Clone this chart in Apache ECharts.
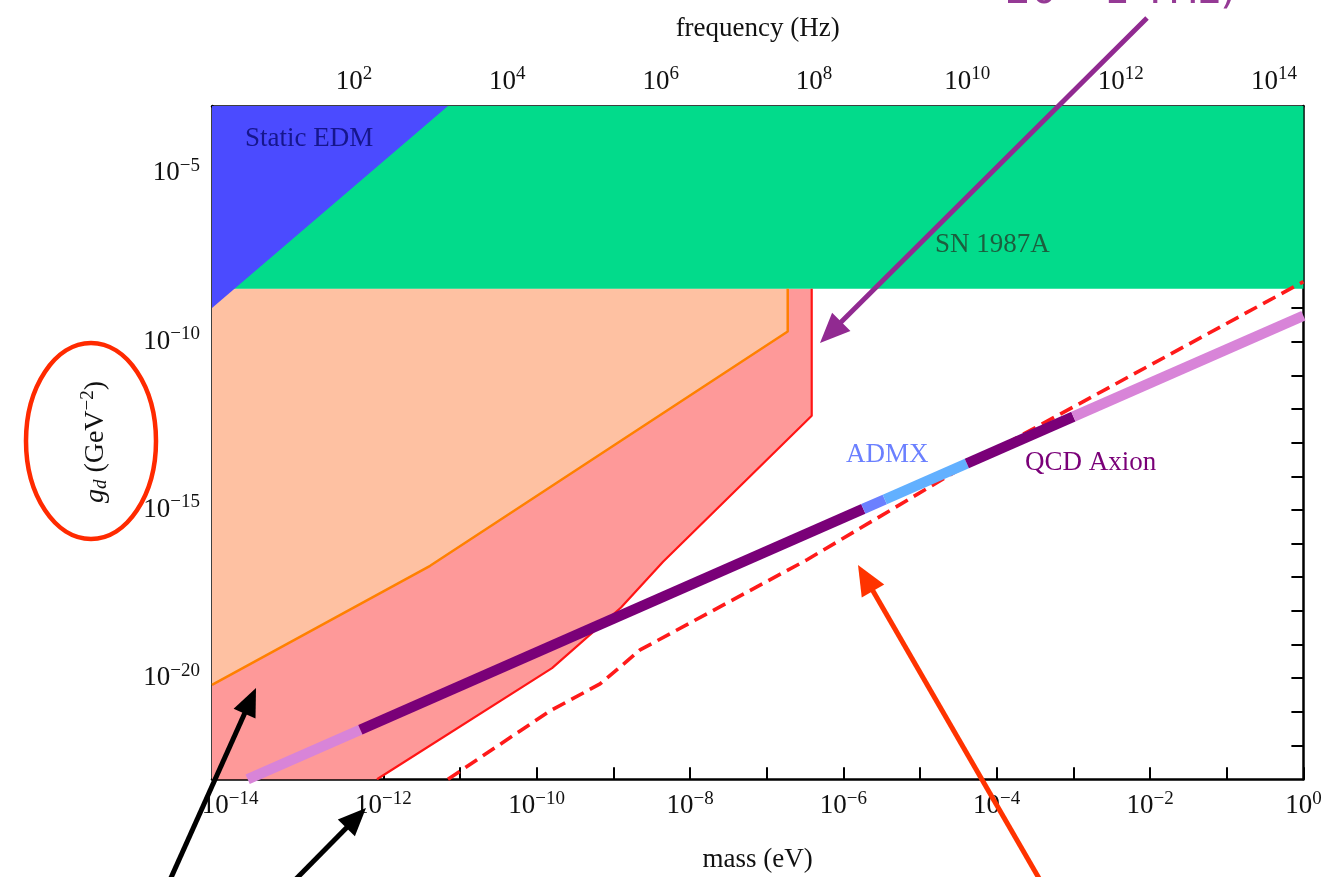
<!DOCTYPE html>
<html><head><meta charset="utf-8">
<script src="https://cdn.jsdelivr.net/npm/echarts@6/dist/echarts.min.js"></script>
<style>html,body{margin:0;padding:0;background:#fff}#c{width:1323px;height:877px}</style>
</head><body><div id="c"></div>
<script>
// ---- axes (all values are log10 exponents) ----
const LOG_H = -14.3835;            // log10(Planck constant in eV s): f = m / h
const X_MIN = -14.235, X_MAX = 0;  // log10(mass / eV)
const Y_MIN = -23, Y_MAX = -3;     // log10(g_d / GeV^-2)
const MASS_TICKS  = [-14,-13,-12,-11,-10,-9,-8,-7,-6,-5,-4,-3,-2,-1,0];
const MASS_LABELS = [-14,-12,-10,-8,-6,-4,-2,0];
const FREQ_TICKS  = [1,2,3,4,5,6,7,8,9,10,11,12,13,14];
const FREQ_LABELS = [2,4,6,8,10,12,14];
const G_TICKS  = [-22,-21,-20,-19,-18,-17,-16,-15,-14,-13,-12,-11,-10,-9,-8,-7,-6,-5,-4];
const G_LABELS = [-20,-15,-10,-5];

// ---- regions (log10 mass, log10 g) ----
const edmX = [-14.235, -11.157, -14.235];
const edmY = [-3, -3, -9.0];
const snX = [-14.235, 0, 0, -14.235];
const snY = [-8.43, -8.43, -3, -3];
const orangeX = [-14.235, -11.39, -6.726, -6.726];
const orangeY = [-20.20, -16.66, -9.70, -8.43];
const redX = [-12.083, -9.80, -8.90, -8.352, -6.413, -6.413];
const redY = [-23.0, -19.70, -17.90, -16.54, -12.20, -8.43];
const dashX = [-11.157, -9.826, -9.174, -8.652, -6.474, -4.387, 0];
const dashY = [-23.0, -20.97, -20.17, -19.16, -16.48, -13.66, -8.22];
// QCD axion band segments
const qcdX = [-13.77, -12.30, -5.74, -5.46, -4.39, -3.00, 0];
const qcdY = [-23.00, -21.53, -14.97, -14.69, -13.62, -12.23, -9.23];
const qcdColors = ['#d884d8', '#7a0078', '#6b80ff', '#62b0ff', '#7a0078', '#d884d8'];

const SERIF = '"Liberation Serif","Times New Roman",serif';
function expLabel(v){ return '{b|10}{s|' + (v < 0 ? '\u2212' : '') + Math.abs(v) + '}'; }
const richLab = {
  b: {fontSize: 27, fontFamily: SERIF, color: '#111'},
  s: {fontSize: 19, fontFamily: SERIF, color: '#111', padding: [0,0,15,0]}
};
function pairs(xs, ys){ return xs.map((x,i)=>[x, ys[i]]); }
function region(xs, ys, fill, z){
  return {type:'custom', silent:true, z:z, data:[0], renderItem:(p, api)=>({
    type:'polygon', shape:{points: xs.map((x,i)=>api.coord([x, ys[i]]))}, style:{fill: fill}
  })};
}
function line(xs, ys, color, width, z, type){
  return {type:'line', silent:true, z:z, data: pairs(xs, ys), symbol:'none', showSymbol:false,
    lineStyle:{color: color, width: width, type: type || 'solid', cap:'butt'}, animation:false};
}

const series = [];
series.push(region([X_MIN].concat(redX).concat([X_MIN]), [Y_MIN].concat(redY).concat([-8.43]), '#fe9999', 1));
series.push(region(orangeX.concat([X_MIN]), orangeY.concat([-8.43]), '#fec1a2', 2));
series.push(region(snX, snY, '#02db8b', 3));
series.push(region(edmX, edmY, '#4b4bff', 4));
series.push(line(redX, redY, '#ff1515', 2.2, 5));
series.push(line(orangeX, orangeY, '#ff8000', 2.5, 5));
series.push(line(dashX, dashY, '#ff1a1a', 3.6, 6, [14, 7]));
for (let i = 0; i < qcdColors.length; i++) {
  series.push(line([qcdX[i], qcdX[i+1]], [qcdY[i], qcdY[i+1]], qcdColors[i], 10.5, 7));
}

const axisLineStyle = {color:'#000', width:2.5};
const tickStyle = {color:'#000', width:2};

const option = {
  animation: false,
  backgroundColor: '#fff',
  grid: {left: 212, top: 106, width: 1091.4, height: 673.2, containLabel: false, outerBoundsMode: 'none'},
  xAxis: [
    {type:'value', position:'bottom', min:X_MIN, max:X_MAX, splitLine:{show:false},
     axisLine:{show:true, onZero:false, lineStyle:axisLineStyle},
     axisTick:{show:true, inside:true, length:12, lineStyle:tickStyle, customValues: MASS_TICKS},
     axisLabel:{show:true, margin:10, customValues: MASS_LABELS, formatter: expLabel, rich: richLab},
     name:'mass (eV)', nameLocation:'middle', nameGap:67,
     nameTextStyle:{fontFamily:SERIF, fontSize:27, color:'#111'}},
    {type:'value', position:'top', min:X_MIN - LOG_H, max:X_MAX - LOG_H, splitLine:{show:false},
     axisLine:{show:true, onZero:false, lineStyle:axisLineStyle},
     axisTick:{show:true, inside:true, length:12, lineStyle:tickStyle, customValues: FREQ_TICKS},
     axisLabel:{show:true, margin:7, customValues: FREQ_LABELS, formatter: expLabel, rich: richLab},
     name:'frequency (Hz)', nameLocation:'middle', nameGap:64,
     nameTextStyle:{fontFamily:SERIF, fontSize:27, color:'#111'}}
  ],
  yAxis: [
    {type:'value', position:'left', min:Y_MIN, max:Y_MAX, splitLine:{show:false},
     axisLine:{show:true, onZero:false, lineStyle:axisLineStyle},
     axisTick:{show:true, inside:true, length:12, lineStyle:tickStyle, customValues: G_TICKS},
     axisLabel:{show:true, margin:12, customValues: G_LABELS, formatter: expLabel, rich: richLab}},
    {type:'value', position:'right', min:Y_MIN, max:Y_MAX, splitLine:{show:false},
     axisLine:{show:true, onZero:false, lineStyle:axisLineStyle},
     axisTick:{show:true, inside:true, length:12, lineStyle:tickStyle, customValues: G_TICKS},
     axisLabel:{show:false}}
  ],
  series: series,
  graphic: []
};

function arrow(x0, y0, x1, y1, color, w, hl, hw){
  const dx = x1 - x0, dy = y1 - y0, L = Math.hypot(dx, dy), ux = dx/L, uy = dy/L;
  const bx = x1 - ux*hl, by = y1 - uy*hl, px = -uy, py = ux;
  return [
    {type:'line', z:100, zlevel:1, shape:{x1:x0, y1:y0, x2:bx + ux*2, y2:by + uy*2}, style:{stroke:color, lineWidth:w}},
    {type:'polygon', z:100, zlevel:1, shape:{points:[[x1,y1],[bx + px*hw/2, by + py*hw/2],[bx - px*hw/2, by - py*hw/2]]}, style:{fill:color}}
  ];
}
const g = option.graphic;
g.push({type:'text', z:50, zlevel:1, left:245, top:125, style:{text:'Static EDM', font:'27px ' + SERIF, fill:'#16168c'}});
g.push({type:'text', z:50, zlevel:1, left:935, top:231, style:{text:'SN 1987A', font:'27px ' + SERIF, fill:'#1c5e3e'}});
g.push({type:'text', z:50, zlevel:1, left:846, top:441, style:{text:'ADMX', font:'27px ' + SERIF, fill:'#6b80ff'}});
g.push({type:'text', z:50, zlevel:1, left:1025, top:449, style:{text:'QCD Axion', font:'27px ' + SERIF, fill:'#7a0078'}});
g.push({type:'text', z:50, zlevel:1, x:96, y:442, rotation:Math.PI/2, style:{
  text:'{i|g}{sub|d}{n| (GeV}{sup|\u22122}{n|)}', align:'center', verticalAlign:'middle',
  rich:{i:{fontFamily:SERIF, fontStyle:'italic', fontSize:28, fill:'#111'},
        sub:{fontFamily:SERIF, fontStyle:'italic', fontSize:19, fill:'#111', padding:[10,0,0,0]},
        n:{fontFamily:SERIF, fontSize:28, fill:'#111'},
        sup:{fontFamily:SERIF, fontSize:19, fill:'#111', padding:[0,0,15,0]}}}});
g.push({type:'ellipse', z:60, zlevel:1, shape:{cx:91, cy:441, rx:65, ry:98}, style:{fill:null, stroke:'#ff2a00', lineWidth:4.5}});
g.push({type:'text', z:50, zlevel:1, x:1005, y:-8, style:{text:'20 \u2013 1 THz)', font:'41px "DejaVu Sans", sans-serif', fill:'#953a95', verticalAlign:'middle', align:'left'}});
g.push(...arrow(1147, 18, 820, 343, '#912a91', 5, 30, 26));
g.push(...arrow(1040, 880, 858, 565, '#ff3300', 5, 30, 26));
g.push(...arrow(170, 880, 256, 688, '#000', 5, 28, 24));
g.push(...arrow(295, 880, 366, 808, '#000', 5, 28, 24));

const chart = echarts.init(document.getElementById('c'));
chart.setOption(option);
</script></body></html>
